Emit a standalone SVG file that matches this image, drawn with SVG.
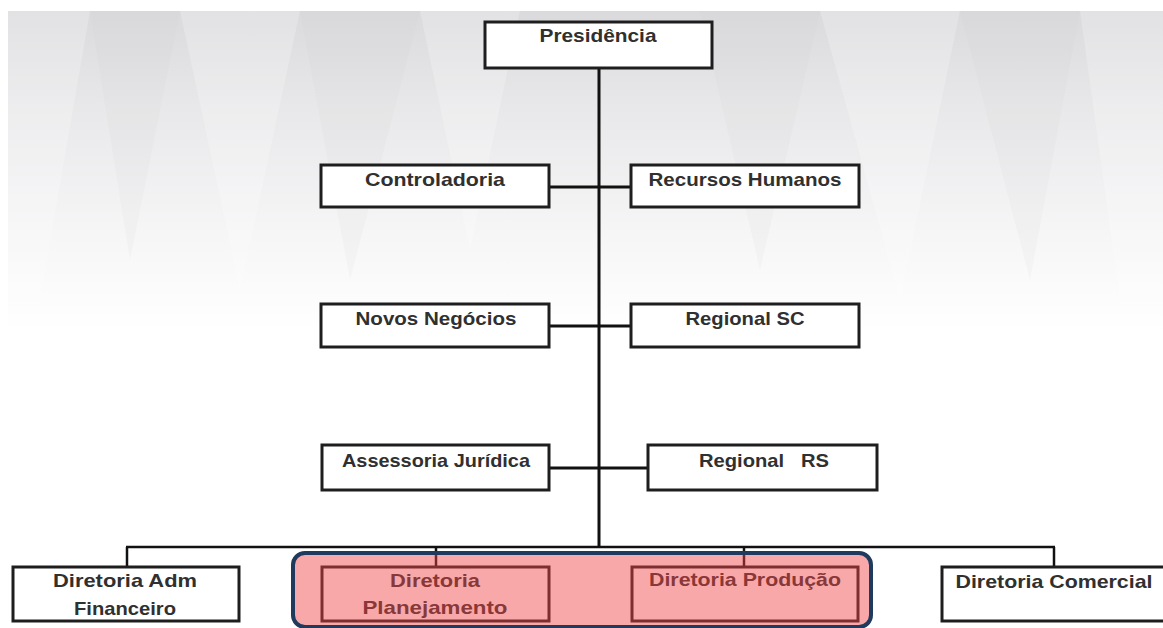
<svg xmlns="http://www.w3.org/2000/svg" width="1163" height="628" viewBox="0 0 1163 628">
  <defs>
    <linearGradient id="bg" x1="0" y1="0" x2="0" y2="1">
      <stop offset="0" stop-color="#dadadd"/>
      <stop offset="0.3" stop-color="#e8e8ea"/>
      <stop offset="0.7" stop-color="#f6f6f7"/>
      <stop offset="1" stop-color="#ffffff"/>
    </linearGradient>
    <style>
      .box { fill: #ffffff; stroke: #1e1e1e; stroke-width: 3; }
      .lbl { font-family: "Liberation Sans", Arial, sans-serif; font-weight: bold; font-size: 19px; fill: #303030; text-anchor: middle; }
      .wire { stroke: #111111; stroke-width: 3; fill: none; }
      .bus { stroke: #111111; stroke-width: 2.5; fill: none; }
      .facet { fill: #ffffff; opacity: 0.22; }
      .shade { fill: #c4c4c8; opacity: 0.09; }
    </style>
  </defs>

  <!-- page background -->
  <rect x="0" y="0" width="1163" height="628" fill="#ffffff"/>
  <rect x="8" y="11" width="1155" height="320" fill="url(#bg)"/>
  <!-- soft faceted pattern in the header band -->
  <g id="facets">
    <polygon class="facet" points="8,11 90,11 40,300 8,300"/>
    <polygon class="shade" points="90,11 180,11 130,260"/>
    <polygon class="facet" points="180,11 300,11 240,290"/>
    <polygon class="shade" points="300,11 420,11 350,280"/>
    <polygon class="facet" points="420,11 520,11 470,250"/>
    <polygon class="shade" points="700,11 820,11 760,270"/>
    <polygon class="facet" points="820,11 960,11 900,300"/>
    <polygon class="shade" points="960,11 1080,11 1030,280"/>
    <polygon class="facet" points="1080,11 1163,11 1163,300 1120,300"/>
  </g>

  <!-- connectors -->
  <g id="connectors">
    <line class="wire" x1="599" y1="68" x2="599" y2="548"/>
    <line class="wire" x1="549" y1="187" x2="631" y2="187"/>
    <line class="wire" x1="549" y1="326" x2="631" y2="326"/>
    <line class="wire" x1="549" y1="468" x2="648" y2="468"/>
    <line class="bus" x1="126" y1="547" x2="1055" y2="547"/>
    <line class="bus" x1="127" y1="547" x2="127" y2="567"/>
    <line class="bus" x1="436" y1="547" x2="436" y2="567"/>
    <line class="bus" x1="744" y1="547" x2="744" y2="567"/>
    <line class="bus" x1="1054" y1="547" x2="1054" y2="567"/>
  </g>

  <!-- nodes -->
  <g id="presidencia">
    <rect class="box" x="485" y="22" width="227" height="46"/>
    <text class="lbl" x="598" y="42" textLength="117" lengthAdjust="spacingAndGlyphs">Presidência</text>
  </g>
  <g id="controladoria">
    <rect class="box" x="321" y="165" width="228" height="42"/>
    <text class="lbl" x="435" y="186" textLength="140" lengthAdjust="spacingAndGlyphs">Controladoria</text>
  </g>
  <g id="recursos-humanos">
    <rect class="box" x="631" y="165" width="228" height="42"/>
    <text class="lbl" x="745" y="186" textLength="193" lengthAdjust="spacingAndGlyphs">Recursos Humanos</text>
  </g>
  <g id="novos-negocios">
    <rect class="box" x="321" y="304" width="228" height="43"/>
    <text class="lbl" x="436" y="325" textLength="161" lengthAdjust="spacingAndGlyphs">Novos Negócios</text>
  </g>
  <g id="regional-sc">
    <rect class="box" x="631" y="304" width="228" height="43"/>
    <text class="lbl" x="745" y="325" textLength="119" lengthAdjust="spacingAndGlyphs">Regional SC</text>
  </g>
  <g id="assessoria-juridica">
    <rect class="box" x="322" y="445" width="227" height="45"/>
    <text class="lbl" x="436" y="467" textLength="188" lengthAdjust="spacingAndGlyphs">Assessoria Jurídica</text>
  </g>
  <g id="regional-rs">
    <rect class="box" x="648" y="445" width="229" height="45"/>
    <text class="lbl" x="764" y="467" textLength="130" lengthAdjust="spacingAndGlyphs" xml:space="preserve">Regional   RS</text>
  </g>
  <g id="diretoria-adm-financeiro">
    <rect class="box" x="13" y="567" width="226" height="54"/>
    <text class="lbl" x="125" y="587" textLength="144" lengthAdjust="spacingAndGlyphs">Diretoria Adm</text>
    <text class="lbl" x="125" y="615" textLength="102" lengthAdjust="spacingAndGlyphs">Financeiro</text>
  </g>
  <g id="diretoria-planejamento">
    <rect class="box" x="322" y="567" width="227" height="54"/>
    <text class="lbl" x="435" y="587" textLength="90" lengthAdjust="spacingAndGlyphs">Diretoria</text>
    <text class="lbl" x="435" y="614" textLength="145" lengthAdjust="spacingAndGlyphs">Planejamento</text>
  </g>
  <g id="diretoria-producao">
    <rect class="box" x="632" y="567" width="226" height="54"/>
    <text class="lbl" x="745" y="586" textLength="192" lengthAdjust="spacingAndGlyphs">Diretoria Produção</text>
  </g>
  <g id="diretoria-comercial">
    <rect class="box" x="942" y="567" width="240" height="54"/>
    <text class="lbl" x="1054" y="588" textLength="197" lengthAdjust="spacingAndGlyphs">Diretoria Comercial</text>
  </g>

  <!-- translucent highlight over two directorates -->
  <g id="highlight">
    <rect x="293" y="553" width="578" height="74" rx="12" ry="12" fill="#ef4141" fill-opacity="0.46" stroke="#1f3a5c" stroke-width="4"/>
  </g>
</svg>
